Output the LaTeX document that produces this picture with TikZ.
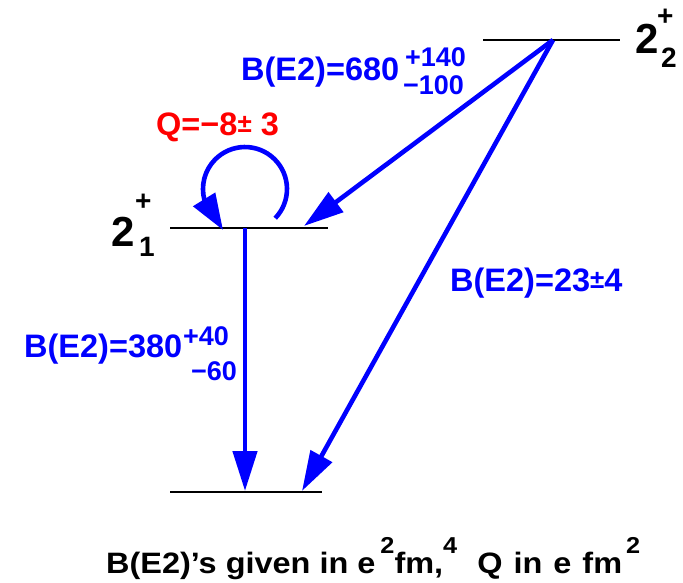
\documentclass[tikz,border=0pt]{standalone}
\usepackage{fontspec}
\setmainfont{Liberation Sans}
\newfontfamily\widefont[FakeStretch=1.1]{Liberation Sans}
\usetikzlibrary{arrows.meta}
\definecolor{myblue}{RGB}{0,0,255}
\definecolor{myred}{RGB}{255,0,0}
\newcommand{\pmsmall}[1]{\raisebox{#1}{\fontsize{26}{26}\selectfont ±}}
\newcommand{\supnum}[1]{\raisebox{20pt}{\fontsize{23}{23}\selectfont #1}}
\begin{document}
\begin{tikzpicture}[x=1pt,y=1pt,
  lvl/.style={line width=2.8pt, black},
  tr/.style={line width=4.6pt, myblue, -{Triangle[length=40pt,width=24pt]}},
  big/.style={inner sep=0pt, anchor=base west, font=\fontsize{32.5}{32.5}\selectfont\bfseries},
  small/.style={inner sep=0pt, anchor=base west, font=\fontsize{27}{27}\selectfont\bfseries},
  spin/.style={inner sep=0pt, anchor=base west, font=\fontsize{42}{42}\selectfont\bfseries},
  spinsm/.style={inner sep=0pt, anchor=base west, font=\fontsize{28}{28}\selectfont\bfseries},
  note/.style={inner sep=0pt, anchor=base west, font=\fontsize{29.5}{29.5}\selectfont\widefont\bfseries}
]
\useasboundingbox (0,0) rectangle (683,-583);
% level lines
\coordinate (l2a) at (483,-40);
\coordinate (l2b) at (620,-40);
\coordinate (l1a) at (170,-228);
\coordinate (l1b) at (328,-228);
\coordinate (g0a) at (170,-492);
\coordinate (g0b) at (322,-492);
\draw[lvl] (l2a) -- (l2b);
\draw[lvl] (l1a) -- (l1b);
\draw[lvl] (g0a) -- (g0b);
% transition points
\coordinate (top) at (553,-40);
\coordinate (hit1) at (304,-226);
\coordinate (gnd2) at (302,-491);
\coordinate (l1v) at (245,-228);
\coordinate (gnd1) at (245,-491);
\coordinate (qstart) at (275.2,-218.2);
\coordinate (qtip) at (223,-230);
\draw[tr] (top) -- (hit1);
\draw[tr] (top) -- (gnd2);
\draw[tr] (l1v) -- (gnd1);
\draw[line width=4.6pt, myblue, -{Triangle[length=36pt,width=25pt]}]
  (qstart) arc[start angle=-44, end angle=195, radius=42] -- (qtip);
% level labels
\node[spin] (s2) at (635,-54) {2};
\node[spinsm] (s2p) at (657,-26) {+};
\node[spinsm] (s2s) at (661,-68) {2};
\node[spin] (s1) at (111,-246) {2};
\node[spinsm] (s1p) at (135,-210) {+};
\node[spinsm] (s1s) at (139,-256) {1};
% transition labels
\node[big, myblue] (b680) at (241,-81) {B(E2)=680};
\node[small, myblue] (b680p) at (405,-67) {+140};
\node[small, myblue] (b680m) at (403,-95) {−100};
\node[big, myred] (q) at (156,-136) {Q=−8\pmsmall{3pt} 3};
\node[big, myblue] (b380) at (24,-357) {B(E2)=380};
\node[small, myblue] (b380p) at (183,-345) {+40};
\node[small, myblue] (b380m) at (191,-380) {−60};
\node[big, myblue] (b23) at (450,-291) {B(E2)=23\pmsmall{3pt}4};
% note
\node[note] (units) at (106,-573) {B(E2)’s given in e\hspace{5pt}\supnum{2}fm,\supnum{4}\hspace{20pt}Q\hspace{2pt} in\hspace{2pt} e\hspace{2pt} fm\hspace{4pt}\supnum{2}};
\end{tikzpicture}
\end{document}
